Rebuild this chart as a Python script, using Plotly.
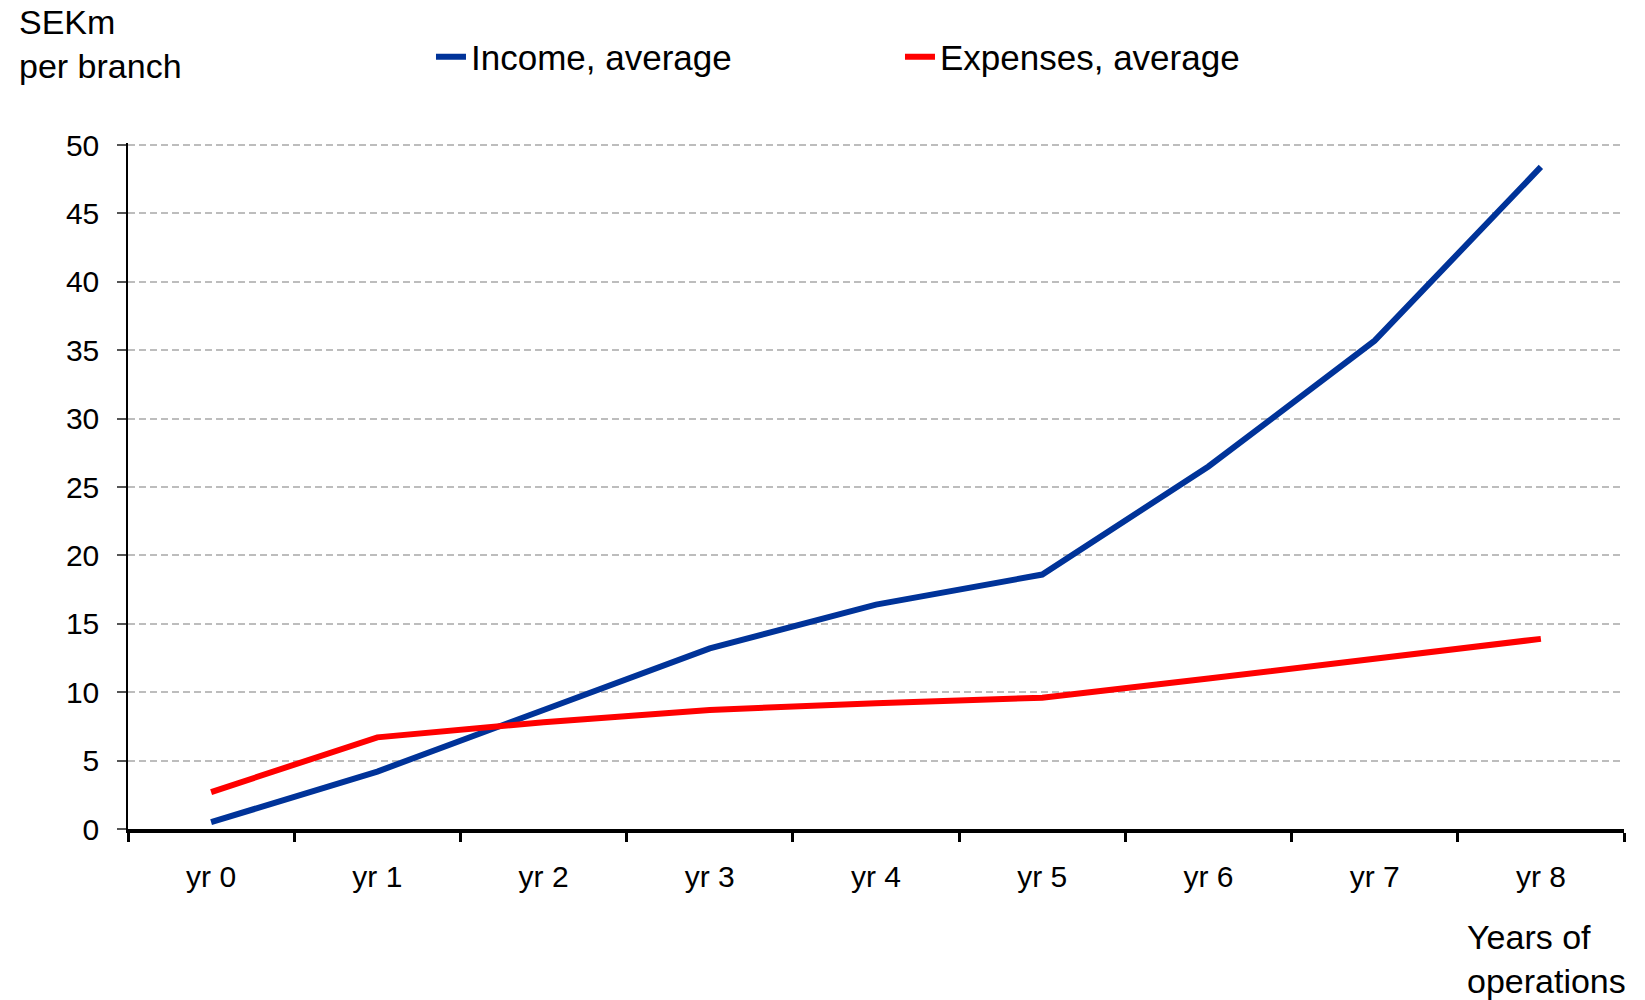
import plotly.graph_objects as go

# Average income and expenses per branch, SEK millions, by year of operation
years = ["yr 0", "yr 1", "yr 2", "yr 3", "yr 4", "yr 5", "yr 6", "yr 7", "yr 8"]
income = [0.5, 4.2, 8.7, 13.2, 16.4, 18.6, 26.5, 35.7, 48.4]
expenses = [2.7, 6.7, 7.8, 8.7, 9.2, 9.6, 11.0, 12.4, 13.9]
y_ticks = [0, 5, 10, 15, 20, 25, 30, 35, 40, 45, 50]

FONT = "Liberation Sans, Arial, sans-serif"
BLUE = "#003399"
RED = "#FF0000"

fig = go.Figure()
fig.add_trace(go.Scatter(
    x=years, y=income, mode="lines", name="Income, average",
    line=dict(color=BLUE, width=6),
))
fig.add_trace(go.Scatter(
    x=years, y=expenses, mode="lines", name="Expenses, average",
    line=dict(color=RED, width=6),
))

fig.update_layout(
    width=1645, height=1000,
    margin=dict(l=128, r=21, t=143, b=171),
    paper_bgcolor="white", plot_bgcolor="white",
    font=dict(family=FONT, size=30, color="black"),
    showlegend=True,
    legend=dict(
        orientation="h",
        xref="container", yref="container",
        x=0.262, y=0.943, xanchor="left", yanchor="middle",
        font=dict(size=35),
        entrywidth=424,
        itemwidth=30,
        bgcolor="rgba(0,0,0,0)",
    ),
)

fig.update_xaxes(
    type="category",
    range=[-0.5, 8.5],
    tickson="boundaries",
    showgrid=False,
    showline=True, linecolor="black", linewidth=4,
    ticks="outside", ticklen=9, tickwidth=2.5, tickcolor="black",
    ticklabelstandoff=18,
    tickfont=dict(size=30),
    zeroline=False,
)

# Small headroom above 50 so the top dashed gridline stays visible
fig.update_yaxes(
    range=[0, 50.15],
    tickvals=y_ticks,
    showgrid=True, gridcolor="#bdbdbd", gridwidth=2, griddash="7px,4px",
    showline=True, linecolor="black", linewidth=1.5,
    ticks="outside", ticklen=9, tickwidth=1.5, tickcolor="#555555",
    ticklabelstandoff=12,
    tickfont=dict(size=30),
    zeroline=False,
)

# Axis captions
fig.add_annotation(
    text="SEKm<br>per branch", xref="paper", yref="paper",
    x=-128 / 1496 + 17 / 1496, y=1 + 142 / 685.7,
    xanchor="left", yanchor="top", align="left", showarrow=False,
    font=dict(size=34),
)
fig.add_annotation(
    text="Years of<br>operations", xref="paper", yref="paper",
    x=(1465 - 128) / 1496, y=-(916 - 828.7) / 685.7,
    xanchor="left", yanchor="top", align="left", showarrow=False,
    font=dict(size=34),
)

fig.write_html("out.html")
